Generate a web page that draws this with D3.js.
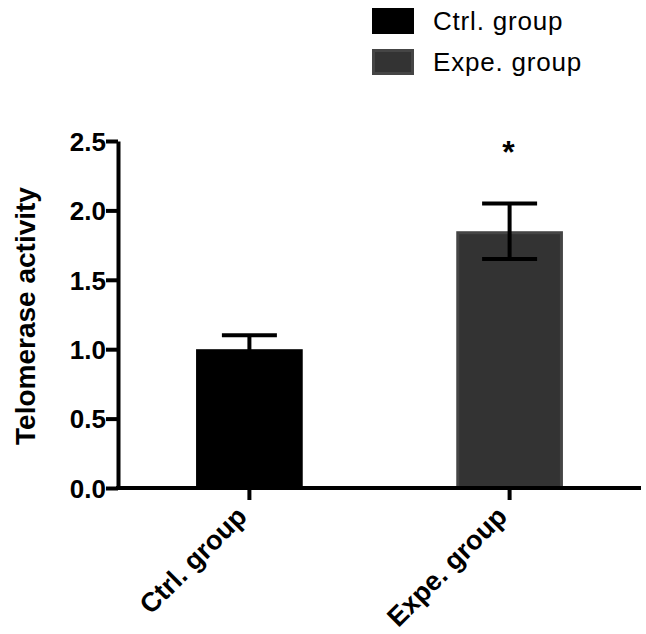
<!DOCTYPE html>
<html>
<head>
<meta charset="utf-8">
<script src="https://cdn.jsdelivr.net/npm/d3@7"></script>
<style>
  body { margin: 0; background: #fff; }
  text { font-family: "Liberation Sans", Arial, sans-serif; }
</style>
</head>
<body>
<div id="chart"></div>
<script>
// data
var groups = ["Ctrl. group", "Expe. group"];
var means = [1.0, 1.85];
var errors = [0.1, 0.2];
var fills = ["#000000", "#333333"];
var strokes = ["#000000", "#454545"];
var yTicks = [0, 0.5, 1.0, 1.5, 2.0, 2.5];
var stars = ["", "*"];

var width = 646, height = 634;

var svg = d3.select("#chart")
  .append("svg")
    .attr("width", width)
    .attr("height", height);

var x = d3.scaleBand()
    .domain(groups)
    .range([118, 641])
    .paddingInner(0.59)
    .paddingOuter(0.3);

var y = d3.scaleLinear()
    .domain([0, 2.5])
    .range([488, 141]);

// bars
svg.selectAll(".bar")
  .data(groups)
  .enter()
  .append("rect")
    .attr("x", function(d){ return x(d) + 1.5 })
    .attr("y", function(d, i){ return y(means[i]) + 1.5 })
    .attr("width", x.bandwidth() - 3)
    .attr("height", function(d, i){ return y(0) - y(means[i]) - 1.5 })
    .attr("fill", function(d, i){ return fills[i] })
    .attr("stroke", function(d, i){ return strokes[i] })
    .attr("stroke-width", 3);

// error bars
var capW = 55;
var eb = svg.selectAll(".err")
  .data(groups)
  .enter()
  .append("g");
eb.append("line")
    .attr("x1", function(d){ return x(d) + x.bandwidth()/2 })
    .attr("x2", function(d){ return x(d) + x.bandwidth()/2 })
    .attr("y1", function(d, i){ return y(means[i] + errors[i]) })
    .attr("y2", function(d, i){ return y(means[i] - errors[i]) })
    .attr("stroke", "#000").attr("stroke-width", 4);
eb.append("line")
    .attr("x1", function(d){ return x(d) + x.bandwidth()/2 - capW/2 })
    .attr("x2", function(d){ return x(d) + x.bandwidth()/2 + capW/2 })
    .attr("y1", function(d, i){ return y(means[i] + errors[i]) })
    .attr("y2", function(d, i){ return y(means[i] + errors[i]) })
    .attr("stroke", "#000").attr("stroke-width", 4);
eb.append("line")
    .attr("x1", function(d){ return x(d) + x.bandwidth()/2 - capW/2 })
    .attr("x2", function(d){ return x(d) + x.bandwidth()/2 + capW/2 })
    .attr("y1", function(d, i){ return y(means[i] - errors[i]) })
    .attr("y2", function(d, i){ return y(means[i] - errors[i]) })
    .attr("stroke", "#000").attr("stroke-width", 4);

// significance star
svg.selectAll(".star")
  .data(groups)
  .enter()
  .append("text")
    .attr("x", function(d){ return x(d) + x.bandwidth()/2 - 1 })
    .attr("y", 163)
    .attr("text-anchor", "middle")
    .style("font-size", "32px")
    .style("font-weight", "bold")
    .text(function(d, i){ return stars[i] });

// y axis
var yAxis = svg.append("g")
  .attr("transform", "translate(118,0)")
  .call(d3.axisLeft(y).tickValues(yTicks).tickFormat(d3.format(".1f")).tickSize(12).tickSizeOuter(0));
yAxis.select(".domain").attr("stroke-width", 4);
yAxis.selectAll(".tick line").attr("stroke-width", 4);
yAxis.selectAll(".tick text")
  .attr("x", -12)
  .attr("dy", "0.36em")
  .style("font-size", "26px")
  .style("font-weight", "bold")
  .style("font-family", "Liberation Sans, Arial, sans-serif")
  .attr("fill", "#000");

// x axis
var xAxis = svg.append("g")
  .attr("transform", "translate(0,488)")
  .call(d3.axisBottom(x).tickSize(12).tickSizeOuter(0));
xAxis.select(".domain").attr("stroke-width", 4).attr("d", "M116,0H641");
xAxis.selectAll(".tick line").attr("stroke-width", 4);
xAxis.selectAll(".tick text")
  .attr("y", 0)
  .attr("dy", 0)
  .attr("transform", "translate(-1,30) rotate(-45)")
  .attr("text-anchor", "end")
  .style("font-size", "27px")
  .style("font-weight", "bold")
  .style("font-family", "Liberation Sans, Arial, sans-serif")
  .attr("fill", "#000");

// y label
svg.append("text")
  .attr("transform", "translate(35,316) rotate(-90)")
  .attr("text-anchor", "middle")
  .style("font-size", "28px")
  .style("font-weight", "bold")
  .text("Telomerase activity");

// legend
var leg = svg.selectAll(".leg")
  .data(groups)
  .enter()
  .append("g")
    .attr("transform", function(d, i){ return "translate(372," + (8 + i * 41) + ")" });
leg.append("rect")
    .attr("x", 1.5).attr("y", 1.5)
    .attr("width", 39).attr("height", 23)
    .attr("fill", function(d, i){ return fills[i] })
    .attr("stroke", function(d, i){ return strokes[i] })
    .attr("stroke-width", 3);
leg.append("text")
    .attr("x", 61)
    .attr("y", 22)
    .style("font-size", "26px")
    .style("letter-spacing", "0.8px")
    .text(function(d){ return d });
</script>
</body>
</html>
